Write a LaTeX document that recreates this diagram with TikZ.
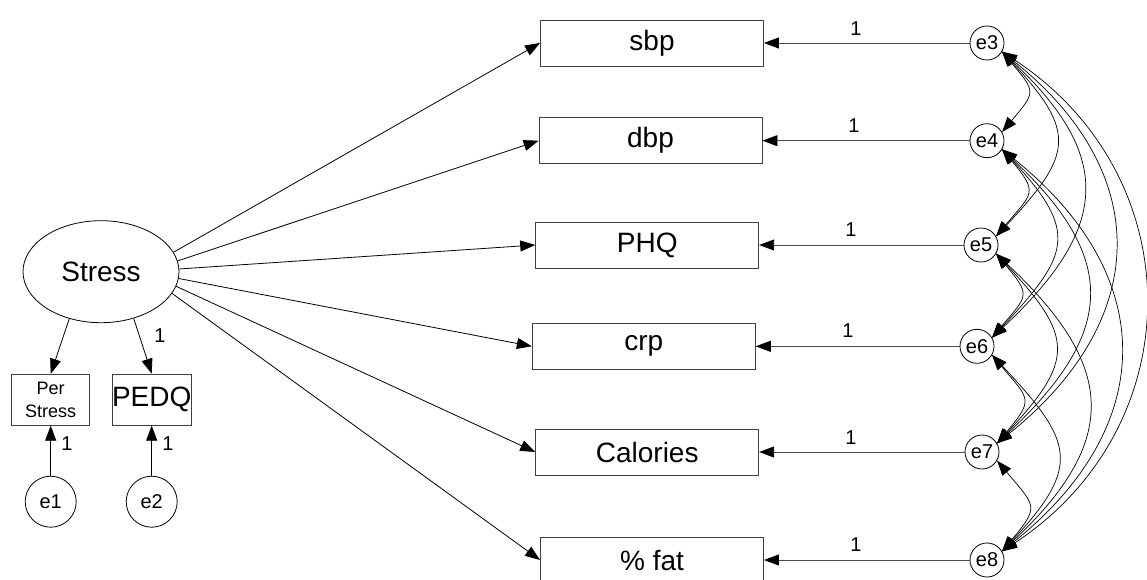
\documentclass[tikz,border=0pt]{standalone}
\usepackage{fontspec}
\setmainfont{Liberation Sans}
\usetikzlibrary{shapes.geometric,arrows.meta}
\tikzset{
  obs/.style={draw=black!75, line width=0.9pt, rectangle, minimum width=223pt, minimum height=46pt, inner sep=0pt, font=\fontsize{28}{32}\selectfont},
  smallobs/.style={draw=black!75, line width=0.9pt, rectangle, minimum width=78pt, minimum height=51pt, inner sep=0pt},
  err/.style={draw, line width=0.8pt, circle, minimum size=34pt, inner sep=0pt, font=\fontsize{20}{22}\selectfont},
  bigerr/.style={draw, line width=0.8pt, circle, minimum size=51pt, inner sep=0pt, font=\fontsize{20}{22}\selectfont},
  lat/.style={draw, line width=0.8pt, ellipse, minimum width=156pt, minimum height=102pt, inner sep=0pt, font=\fontsize{28}{32}\selectfont},
  lbl/.style={inner sep=0pt, font=\fontsize{20}{22}\selectfont},
  path/.style={line width=0.8pt, -{Triangle[length=15pt,width=11pt]}},
  res/.style={line width=0.9pt, draw=black!70, -{Triangle[length=15pt,width=11pt,color=black]}},
  cov/.style={line width=0.7pt, {Triangle[length=15pt,width=11pt]}-{Triangle[length=15pt,width=11pt]}},
}
\begin{document}
\begin{tikzpicture}[x=1pt,y=-1pt]
\useasboundingbox (0,0) rectangle (1147,580);
% latent
\node[lat] (stress) at (101,271.7) {Stress};
% observed right
\node[obs] (sbp) at (652,43) {sbp};
\node[obs] (dbp) at (650.5,140.7) {dbp};
\node[obs] (phq) at (647.2,245) {PHQ};
\node[obs] (crp) at (643.8,346.3) {crp};
\node[obs] (cal) at (647.2,452) {Calories};
\node[obs] (fat) at (652,560) {\% fat};
% errors right
\node[err] (e3) at (987,43) {e3};
\node[err] (e4) at (987,140.7) {e4};
\node[err] (e5) at (981,245) {e5};
\node[err] (e6) at (977,346.3) {e6};
\node[err] (e7) at (982,452) {e7};
\node[err] (e8) at (987,560) {e8};
% left indicators
\node[smallobs, align=center, font=\fontsize{18}{23}\selectfont] (per) at (50.7,399.7) {Per\\Stress};
\node[smallobs, font=\fontsize{28}{32}\selectfont] (pedq) at (151.7,399.7) {PEDQ};
\node[bigerr] (e1) at (50.7,501.7) {e1};
\node[bigerr] (e2) at (151.7,501.7) {e2};
% paths from Stress
\draw[path] (stress.15) -- (sbp.west);
\draw[path] (stress.8.6) -- (dbp.west);
\draw[path] (stress.2.5) -- (phq.west);
\draw[path] (stress.-5.3) -- (crp.west);
\draw[path] (stress.-11.8) -- (cal.west);
\draw[path] (stress.-17.4) -- (fat.west);
\draw[path] (stress.-124) -- (per.north);
\draw[path] (stress.-55) -- (pedq.north);
% residual paths
\draw[res] (e3) -- (sbp.east);
\draw[res] (e4) -- (dbp.east);
\draw[res] (e5) -- (phq.east);
\draw[res] (e6) -- (crp.east);
\draw[res] (e7) -- (cal.east);
\draw[res] (e8) -- (fat.east);
\draw[path] (e1) -- (per.south);
\draw[path] (e2) -- (pedq.south);
% labels
\node[lbl] (l3) at (856,29) {1};
\node[lbl] (l4) at (854,126) {1};
\node[lbl] (l5) at (851,230) {1};
\node[lbl] (l6) at (848,331) {1};
\node[lbl] (l7) at (851,438) {1};
\node[lbl] (l8) at (856,545) {1};
\node[lbl] (lp) at (160,336) {1};
\node[lbl] (l1) at (67,444) {1};
\node[lbl] (l2) at (168,444) {1};
% covariances
\def\ylist{{0,0,0,43,140.7,245,346.3,452,560}}
\foreach \i in {3,...,7}{
  \pgfmathtruncatemacro\ia{\i+1}
  \foreach \j in {\ia,...,8}{
    \pgfmathsetmacro\cc{\ylist[\j]-\ylist[\i]-17}
    \pgfmathsetmacro\nn{\j-\i}
    \pgfmathsetmacro\kk{0.43-0.01*\nn}
    \pgfmathsetmacro\mm{0.5625-0.0625*\nn}
    \pgfmathsetmacro\dx{\kk*\cc}
    \pgfmathsetmacro\dy{\mm*\cc}
    \draw[cov] (e\i.-30) .. controls +(\dx,\dy) and +(\dx,-\dy) .. (e\j.30);
  }
}
\end{tikzpicture}
\end{document}
